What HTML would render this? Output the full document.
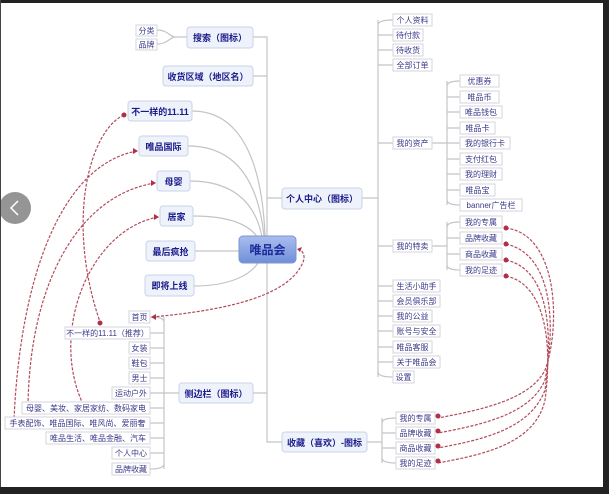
<!DOCTYPE html>
<html><head><meta charset="utf-8"><style>
html,body{margin:0;padding:0;background:#fff;}
svg{display:block;font-family:"Liberation Sans","Noto Sans CJK SC",sans-serif;}
.n{fill:#eef2fb;stroke:#c9d3ea;stroke-width:1;}
.t{font-size:9px;fill:#1a1a8a;font-weight:bold;text-anchor:middle;}
.s{fill:#fff;stroke:#d6d6de;stroke-width:1;}
.st{font-size:8px;fill:#3a3a8a;text-anchor:middle;}
.l{fill:none;stroke:#c4c4c8;stroke-width:1.2;}
.r{fill:none;stroke:#b24a5a;stroke-width:1.2;stroke-dasharray:3,1.5;}
.d{fill:#b0304a;}
</style></head><body>
<svg width="609" height="494" viewBox="0 0 609 494">
<rect width="609" height="494" fill="#fff"/>
<!-- trunk -->
<path class="l" d="M253 37 H267 V442 H282 M253 76 H267 M267 198 H282 M253 393 H267"/>
<!-- left curves to center -->
<path class="l" d="M192 111 C240 111 262 160 265 236 M188 146 C235 146 258 180 264 236 M190 181 C230 181 255 200 262 237 M193 216 C230 216 250 225 258 238 M195 251 H239 M194 286 C230 286 250 275 258 263"/>
<!-- search bracket -->
<path class="l" d="M157 30 C168 30 170 37 175 37 H187 M157 44 C168 44 170 37 175 37"/>
<!-- right list lines -->
<path class="l" d="M362 198 H378 M378 20 V377"/>
<g class="l">
<path d="M378 25 Q378 20 393 20 M378 35 H393 M378 50 H393 M378 65 H393 M378 143 H393 M378 246 H393 M378 286 H393 M378 301 H393 M378 316 H393 M378 331 H393 M378 347 H393 M378 362 H393 M378 372 Q378 377 393 377"/>
<path d="M432 143 H447 M447 81 V205 M447 86 Q447 81 460 81 M447 97 H460 M447 112 H460 M447 128 H460 M447 143 H460 M447 159 H460 M447 174 H460 M447 190 H460 M447 200 Q447 205 460 205"/>
<path d="M432 246 H447 M447 222 V270 M447 227 Q447 222 460 222 M447 238 H460 M447 254 H460 M447 265 Q447 270 460 270"/>
<path d="M367 442 H382 M382 418 V463 M382 423 Q382 418 396 418 M382 433 H396 M382 448 H396 M382 458 Q382 463 396 463"/>
<path d="M164 393 H179 M164 317 V469 M164 322 Q164 317 150 317 M164 333 H150 M164 348 H150 M164 363 H150 M164 378 H150 M164 393 H150 M164 408 H150 M164 423 H150 M164 438 H150 M164 453 H150 M164 464 Q164 469 150 469"/>
</g>
<!-- red dashed right -->
<path class="r" d="M506 228 C560 235 560 330 545 370 C530 400 480 410 438 418"/>
<path class="r" d="M506 244 C555 255 555 330 545 380 C530 415 480 425 438 433"/>
<path class="r" d="M506 260 C552 270 552 340 545 390 C530 430 480 440 438 448"/>
<path class="r" d="M506 276 C548 285 552 350 545 400 C535 445 480 455 438 463"/>
<g class="d">
<circle cx="506" cy="228" r="2.5"/><circle cx="506" cy="244" r="2.5"/><circle cx="506" cy="260" r="2.5"/><circle cx="506" cy="276" r="2.5"/>
<circle cx="438" cy="416" r="2.5"/><circle cx="438" cy="431" r="2.5"/><circle cx="438" cy="446" r="2.5"/><circle cx="438" cy="461" r="2.5"/>
</g>
<!-- red dashed left -->
<path class="r" d="M124 115 C90 130 65 220 100 322"/>
<path class="r" d="M137 151 C60 165 20 280 14 420"/>
<path class="r" d="M155 183 C80 195 30 280 28 405"/>
<path class="r" d="M158 217 C90 230 50 330 82 402"/>
<path class="r" d="M152 317 C230 310 290 295 303 262 C306 255 302 250 298 249"/>
<g class="d"><circle cx="124" cy="115" r="2.5"/><circle cx="100" cy="323" r="2.5"/>
<path d="M138 151 l-5 -3 v6z M156 183 l-5 -3 v6z M159 217 l-5 -3 v6z M151 317 l5 -3 v6z M297 249 l5 -2 l-2 5z"/></g>
<!-- main nodes -->
<rect class="n" x="187" y="27" width="66" height="21" rx="3"/><text class="t" x="220" y="41">搜索（图标）</text>
<rect class="s" x="136" y="25" width="21" height="11"/><text class="st" x="146.5" y="33.5">分类</text>
<rect class="s" x="136" y="39" width="21" height="11"/><text class="st" x="146.5" y="47.5">品牌</text>
<rect class="n" x="163" y="66" width="90" height="20" rx="3"/><text class="t" x="208" y="80">收货区域（地区名）</text>
<rect class="n" x="128" y="101" width="64" height="20" rx="3"/><text class="t" x="160" y="115">不一样的11.11</text>
<rect class="n" x="139" y="136" width="49" height="20" rx="3"/><text class="t" x="163.5" y="150">唯品国际</text>
<rect class="n" x="157" y="171" width="33" height="20" rx="3"/><text class="t" x="173.5" y="185">母婴</text>
<rect class="n" x="160" y="206" width="33" height="20" rx="3"/><text class="t" x="176.5" y="220">居家</text>
<rect class="n" x="146" y="241" width="49" height="20" rx="3"/><text class="t" x="170.5" y="255">最后疯抢</text>
<rect class="n" x="145" y="275" width="49" height="21" rx="3"/><text class="t" x="169.5" y="289">即将上线</text>
<defs><linearGradient id="g" x1="0" y1="0" x2="0" y2="1"><stop offset="0" stop-color="#a9bdf0"/><stop offset="1" stop-color="#6f8fd8"/></linearGradient></defs>
<rect x="239" y="236" width="57" height="27" rx="4" fill="url(#g)" stroke="#7d95cf"/><text x="267.5" y="254" font-size="12" font-weight="bold" fill="#1c2a9a" text-anchor="middle">唯品会</text>
<rect class="n" x="282" y="188" width="80" height="21" rx="3"/><text class="t" x="322" y="202">个人中心（图标）</text>
<rect class="n" x="179" y="383" width="74" height="20" rx="3"/><text class="t" x="216" y="397">侧边栏（图标）</text>
<rect class="n" x="282" y="432" width="85" height="20" rx="3"/><text class="t" x="324.5" y="446">收藏（喜欢）-图标</text>
<!-- right small -->
<g>
<rect class="s" x="393" y="14" width="39" height="12"/><text class="st" x="412.5" y="23">个人资料</text>
<rect class="s" x="393" y="29" width="30" height="12"/><text class="st" x="408" y="38">待付款</text>
<rect class="s" x="393" y="44" width="30" height="12"/><text class="st" x="408" y="53">待收货</text>
<rect class="s" x="393" y="59" width="39" height="12"/><text class="st" x="412.5" y="68">全部订单</text>
<rect class="s" x="393" y="137" width="39" height="12"/><text class="st" x="412.5" y="146">我的资产</text>
<rect class="s" x="393" y="240" width="39" height="12"/><text class="st" x="412.5" y="249">我的特卖</text>
<rect class="s" x="393" y="280" width="47" height="12"/><text class="st" x="416.5" y="289">生活小助手</text>
<rect class="s" x="393" y="295" width="47" height="12"/><text class="st" x="416.5" y="304">会员俱乐部</text>
<rect class="s" x="393" y="310" width="39" height="12"/><text class="st" x="412.5" y="319">我的公益</text>
<rect class="s" x="393" y="325" width="47" height="12"/><text class="st" x="416.5" y="334">账号与安全</text>
<rect class="s" x="393" y="341" width="39" height="12"/><text class="st" x="412.5" y="350">唯品客服</text>
<rect class="s" x="393" y="356" width="47" height="12"/><text class="st" x="416.5" y="365">关于唯品会</text>
<rect class="s" x="393" y="371" width="21" height="12"/><text class="st" x="403.5" y="380">设置</text>
<rect class="s" x="460" y="75" width="39" height="12"/><text class="st" x="479.5" y="84">优惠券</text>
<rect class="s" x="460" y="91" width="39" height="12"/><text class="st" x="479.5" y="100">唯品币</text>
<rect class="s" x="460" y="106" width="42" height="12"/><text class="st" x="481" y="115">唯品钱包</text>
<rect class="s" x="460" y="122" width="35" height="12"/><text class="st" x="477.5" y="131">唯品卡</text>
<rect class="s" x="460" y="137" width="50" height="12"/><text class="st" x="485" y="146">我的银行卡</text>
<rect class="s" x="460" y="153" width="42" height="12"/><text class="st" x="481" y="162">支付红包</text>
<rect class="s" x="460" y="168" width="42" height="12"/><text class="st" x="481" y="177">我的理财</text>
<rect class="s" x="460" y="184" width="35" height="12"/><text class="st" x="477.5" y="193">唯品宝</text>
<rect class="s" x="460" y="199" width="62" height="12"/><text class="st" x="491" y="208">banner广告栏</text>
<rect class="s" x="460" y="216" width="42" height="12"/><text class="st" x="481" y="225">我的专属</text>
<rect class="s" x="460" y="232" width="42" height="12"/><text class="st" x="481" y="241">品牌收藏</text>
<rect class="s" x="460" y="248" width="42" height="12"/><text class="st" x="481" y="257">商品收藏</text>
<rect class="s" x="460" y="264" width="42" height="12"/><text class="st" x="481" y="273">我的足迹</text>
<rect class="s" x="396" y="412" width="39" height="12"/><text class="st" x="415.5" y="421">我的专属</text>
<rect class="s" x="396" y="427" width="39" height="12"/><text class="st" x="415.5" y="436">品牌收藏</text>
<rect class="s" x="396" y="442" width="39" height="12"/><text class="st" x="415.5" y="451">商品收藏</text>
<rect class="s" x="396" y="457" width="39" height="12"/><text class="st" x="415.5" y="466">我的足迹</text>
</g>
<!-- sidebar list -->
<g>
<rect class="s" x="129" y="311" width="21" height="12"/><text class="st" x="139.5" y="320">首页</text>
<rect class="s" x="65" y="327" width="85" height="12"/><text class="st" x="107.5" y="336">不一样的11.11（推荐）</text>
<rect class="s" x="129" y="342" width="21" height="12"/><text class="st" x="139.5" y="351">女装</text>
<rect class="s" x="129" y="357" width="21" height="12"/><text class="st" x="139.5" y="366">鞋包</text>
<rect class="s" x="129" y="372" width="21" height="12"/><text class="st" x="139.5" y="381">男士</text>
<rect class="s" x="112" y="387" width="38" height="12"/><text class="st" x="131" y="396">运动户外</text>
<rect class="s" x="22" y="402" width="128" height="12"/><text class="st" x="86" y="411">母婴、美妆、家居家纺、数码家电</text>
<rect class="s" x="5" y="417" width="145" height="12"/><text class="st" x="77.5" y="426">手表配饰、唯品国际、唯风尚、爱丽奢</text>
<rect class="s" x="46" y="432" width="104" height="12"/><text class="st" x="98" y="441">唯品生活、唯品金融、汽车</text>
<rect class="s" x="112" y="447" width="38" height="12"/><text class="st" x="131" y="456">个人中心</text>
<rect class="s" x="112" y="463" width="38" height="12"/><text class="st" x="131" y="472">品牌收藏</text>
</g>
<!-- left circle -->
<circle cx="15" cy="208" r="16" fill="#8a8a8a" opacity="0.9"/>
<path d="M18 201 L11 208 L18 215" fill="none" stroke="#fff" stroke-width="1.5"/>
<!-- dark frame -->
<rect x="0" y="0" width="609" height="3" fill="#222"/>
<rect x="0" y="0" width="1" height="494" fill="#444"/>
<rect x="603" y="0" width="6" height="494" fill="#222"/>
<rect x="0" y="487" width="609" height="7" fill="#222"/>
</svg>
</body></html>
